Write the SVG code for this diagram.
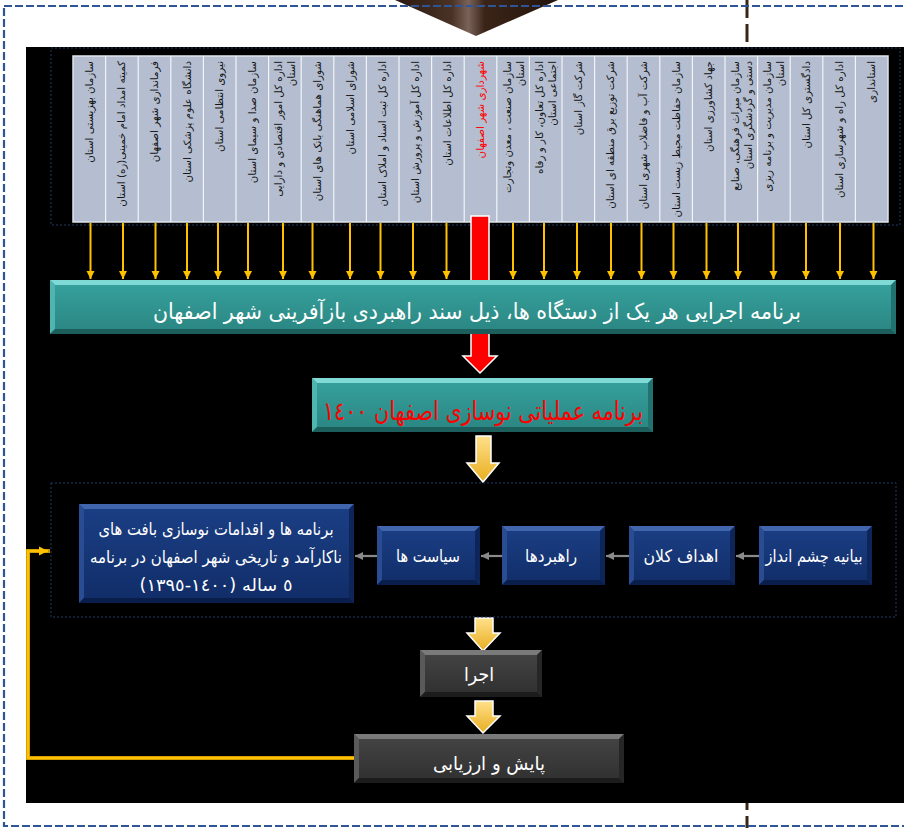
<svg xmlns="http://www.w3.org/2000/svg" width="904" height="828" viewBox="0 0 904 828">
<style>
.ar{font-family:"DejaVu Sans",sans-serif;}
.lbl{font-family:"DejaVu Sans",sans-serif;font-size:10.3px;fill:#151515;}
.red{fill:#ff0000;}
.wt{fill:#ffffff;}
.ya{stroke:#FFC000;stroke-width:2;fill:none;}
.ga{stroke:#8a8a8a;stroke-width:2.2;fill:none;}
</style>
<defs>
<marker id="my" viewBox="0 0 10 10" refX="10" refY="5" markerWidth="8" markerHeight="9" markerUnits="userSpaceOnUse" orient="auto"><path d="M0,0 L10,5 L0,10 z" fill="#FFC000"/></marker>
<marker id="mg" viewBox="0 0 10 10" refX="10" refY="5" markerWidth="9" markerHeight="8" markerUnits="userSpaceOnUse" orient="auto"><path d="M0,0 L10,5 L0,10 z" fill="#8a8a8a"/></marker>
<marker id="mf" viewBox="0 0 10 10" refX="10" refY="5" markerWidth="9" markerHeight="11" markerUnits="userSpaceOnUse" orient="auto"><path d="M0,0 L10,5 L0,10 z" fill="#FFC000"/></marker>
<linearGradient id="brown" x1="0" y1="0" x2="1" y2="0">
<stop offset="0" stop-color="#2b180e"/><stop offset="0.35" stop-color="#4a3226"/><stop offset="0.45" stop-color="#7a6258"/><stop offset="0.55" stop-color="#3a2418"/><stop offset="1" stop-color="#24140b"/>
</linearGradient>
<linearGradient id="gold" x1="0" y1="0" x2="0" y2="1">
<stop offset="0" stop-color="#FFE08A"/><stop offset="1" stop-color="#E8AE20"/>
</linearGradient>
<linearGradient id="teal" x1="0" y1="0" x2="0" y2="1">
<stop offset="0" stop-color="#37A29E"/><stop offset="1" stop-color="#2A8581"/>
</linearGradient>
<linearGradient id="navy" x1="0" y1="0" x2="0" y2="1">
<stop offset="0" stop-color="#1B3F85"/><stop offset="1" stop-color="#112D68"/>
</linearGradient>
<linearGradient id="grey" x1="0" y1="0" x2="0" y2="1">
<stop offset="0" stop-color="#454545"/><stop offset="1" stop-color="#2f2f2f"/>
</linearGradient>
</defs>

<rect x="0" y="0" width="904" height="828" fill="#ffffff"/>
<polygon points="395,0 558,0 476,36" fill="url(#brown)"/>
<line x1="747" y1="0" x2="747" y2="834" stroke="#3a2616" stroke-width="3" stroke-dasharray="18 6"/>
<rect x="4" y="6" width="1000" height="820" fill="none" stroke="#2F5597" stroke-width="2.2" stroke-dasharray="8 3"/>
<rect x="26" y="47" width="878" height="756" fill="#000000"/>

<g id="table">
<rect x="51" y="48" width="849" height="177" fill="none" stroke="#1F3864" stroke-width="1" stroke-dasharray="2 2"/>
<rect x="73" y="56" width="815" height="166" fill="#B4BED0" stroke="#dfe3ea" stroke-width="1.5"/>
<g stroke="#f2f4f8" stroke-width="1.2">
<line x1="105.6" y1="56" x2="105.6" y2="222"/><line x1="138.2" y1="56" x2="138.2" y2="222"/><line x1="170.8" y1="56" x2="170.8" y2="222"/><line x1="203.4" y1="56" x2="203.4" y2="222"/><line x1="236" y1="56" x2="236" y2="222"/><line x1="268.6" y1="56" x2="268.6" y2="222"/><line x1="301.2" y1="56" x2="301.2" y2="222"/><line x1="333.8" y1="56" x2="333.8" y2="222"/><line x1="366.4" y1="56" x2="366.4" y2="222"/><line x1="399" y1="56" x2="399" y2="222"/><line x1="431.6" y1="56" x2="431.6" y2="222"/><line x1="464.2" y1="56" x2="464.2" y2="222"/><line x1="496.8" y1="56" x2="496.8" y2="222"/><line x1="529.4" y1="56" x2="529.4" y2="222"/><line x1="562" y1="56" x2="562" y2="222"/><line x1="594.6" y1="56" x2="594.6" y2="222"/><line x1="627.2" y1="56" x2="627.2" y2="222"/><line x1="659.8" y1="56" x2="659.8" y2="222"/><line x1="692.4" y1="56" x2="692.4" y2="222"/><line x1="725" y1="56" x2="725" y2="222"/><line x1="757.6" y1="56" x2="757.6" y2="222"/><line x1="790.2" y1="56" x2="790.2" y2="222"/><line x1="822.8" y1="56" x2="822.8" y2="222"/><line x1="855.4" y1="56" x2="855.4" y2="222"/>
</g>
</g>

<g id="col01"><text class="lbl" direction="rtl" text-anchor="start" transform="translate(89.3,61) rotate(-90)" y="3.5">سازمان بهزیستی استان</text></g>
<g id="col02"><text class="lbl" direction="rtl" text-anchor="start" transform="translate(121.9,61) rotate(-90)" y="3.5">کمیته امداد امام خمینی(ره) استان</text></g>
<g id="col03"><text class="lbl" direction="rtl" text-anchor="start" transform="translate(154.5,61) rotate(-90)" y="3.5">فرمانداری شهر اصفهان</text></g>
<g id="col04"><text class="lbl" direction="rtl" text-anchor="start" transform="translate(187.1,61) rotate(-90)" y="3.5">دانشگاه علوم پزشکی استان</text></g>
<g id="col05"><text class="lbl" direction="rtl" text-anchor="start" transform="translate(219.7,61) rotate(-90)" y="3.5">نیروی انتظامی استان</text></g>
<g id="col06"><text class="lbl" direction="rtl" text-anchor="start" transform="translate(252.3,61) rotate(-90)" y="3.5">سازمان صدا و سیمای استان</text></g>
<g id="col07"><text class="lbl" direction="rtl" text-anchor="start" transform="translate(284.9,61) rotate(-90)"><tspan x="0" y="-2.5">اداره کل امور اقتصادی و دارایی</tspan><tspan x="0" y="10.5">استان</tspan></text></g>
<g id="col08"><text class="lbl" direction="rtl" text-anchor="start" transform="translate(317.5,61) rotate(-90)" y="3.5">شورای هماهنگی بانک های استان</text></g>
<g id="col09"><text class="lbl" direction="rtl" text-anchor="start" transform="translate(350.1,61) rotate(-90)" y="3.5">شورای اسلامی استان</text></g>
<g id="col10"><text class="lbl" direction="rtl" text-anchor="start" transform="translate(382.7,61) rotate(-90)" y="3.5">اداره کل ثبت اسناد و املاک استان</text></g>
<g id="col11"><text class="lbl" direction="rtl" text-anchor="start" transform="translate(415.3,61) rotate(-90)" y="3.5">اداره کل آموزش و پرورش استان</text></g>
<g id="col12"><text class="lbl" direction="rtl" text-anchor="start" transform="translate(447.9,61) rotate(-90)" y="3.5">اداره کل اطلاعات استان</text></g>
<g id="col13"><text class="lbl red" direction="rtl" text-anchor="start" transform="translate(480.5,61) rotate(-90)" y="3.5">شهرداری شهر اصفهان</text></g>
<g id="col14"><text class="lbl" direction="rtl" text-anchor="start" transform="translate(513.1,61) rotate(-90)"><tspan x="0" y="-2.5">سازمان صنعت ، معدن وتجارت</tspan><tspan x="0" y="10.5">استان</tspan></text></g>
<g id="col15"><text class="lbl" direction="rtl" text-anchor="start" transform="translate(545.7,61) rotate(-90)"><tspan x="0" y="-2.5">اداره کل تعاون، کار و رفاه</tspan><tspan x="0" y="10.5">اجتماعی استان</tspan></text></g>
<g id="col16"><text class="lbl" direction="rtl" text-anchor="start" transform="translate(578.3,61) rotate(-90)" y="3.5">شرکت گاز استان</text></g>
<g id="col17"><text class="lbl" direction="rtl" text-anchor="start" transform="translate(610.9,61) rotate(-90)" y="3.5">شرکت توزیع برق منطقه ای استان</text></g>
<g id="col18"><text class="lbl" direction="rtl" text-anchor="start" transform="translate(643.5,61) rotate(-90)" y="3.5">شرکت آب و فاضلاب شهری استان</text></g>
<g id="col19"><text class="lbl" direction="rtl" text-anchor="start" transform="translate(676.1,61) rotate(-90)" y="3.5">سازمان حفاظت محیط زیست استان</text></g>
<g id="col20"><text class="lbl" direction="rtl" text-anchor="start" transform="translate(708.7,61) rotate(-90)" y="3.5">جهاد کشاورزی استان</text></g>
<g id="col21"><text class="lbl" direction="rtl" text-anchor="start" transform="translate(741.3,61) rotate(-90)"><tspan x="0" y="-2.5">سازمان میراث فرهنگی، صنایع</tspan><tspan x="0" y="10.5">دستی و گردشگری استان</tspan></text></g>
<g id="col22"><text class="lbl" direction="rtl" text-anchor="start" transform="translate(773.9,61) rotate(-90)"><tspan x="0" y="-2.5">سازمان مدیریت و برنامه ریزی</tspan><tspan x="0" y="10.5">استان</tspan></text></g>
<g id="col23"><text class="lbl" direction="rtl" text-anchor="start" transform="translate(806.5,61) rotate(-90)" y="3.5">دادگستری کل استان</text></g>
<g id="col24"><text class="lbl" direction="rtl" text-anchor="start" transform="translate(839.1,61) rotate(-90)" y="3.5">اداره کل راه و شهرسازی استان</text></g>
<g id="col25"><text class="lbl" direction="rtl" text-anchor="start" transform="translate(871.7,61) rotate(-90)" y="3.5">استانداری</text></g>

<g id="connectors">
<g class="ya" marker-end="url(#my)">
<line x1="90.5" y1="223" x2="90.5" y2="279"/><line x1="123" y1="223" x2="123" y2="279"/><line x1="155.5" y1="223" x2="155.5" y2="279"/><line x1="187" y1="223" x2="187" y2="279"/><line x1="218" y1="223" x2="218" y2="279"/><line x1="248" y1="223" x2="248" y2="279"/><line x1="283" y1="223" x2="283" y2="279"/><line x1="312.5" y1="223" x2="312.5" y2="279"/><line x1="350" y1="223" x2="350" y2="279"/><line x1="380.5" y1="223" x2="380.5" y2="279"/><line x1="413" y1="223" x2="413" y2="279"/><line x1="446.5" y1="223" x2="446.5" y2="279"/><line x1="513" y1="223" x2="513" y2="279"/><line x1="544" y1="223" x2="544" y2="279"/><line x1="577" y1="223" x2="577" y2="279"/><line x1="611" y1="223" x2="611" y2="279"/><line x1="641.5" y1="223" x2="641.5" y2="279"/><line x1="673.5" y1="223" x2="673.5" y2="279"/><line x1="706.5" y1="223" x2="706.5" y2="279"/><line x1="738" y1="223" x2="738" y2="279"/><line x1="773.5" y1="223" x2="773.5" y2="279"/><line x1="806" y1="223" x2="806" y2="279"/><line x1="840" y1="223" x2="840" y2="279"/><line x1="873.5" y1="223" x2="873.5" y2="279"/>
</g>
<polygon points="471,216 489,216 489,356 497,356 480,373 463,356 471,356" fill="#ff0000" stroke="#ffffff" stroke-width="1.5"/>
<polygon points="476,436 491,436 491,463 499,463 483,482 467,463 476,463" fill="url(#gold)" stroke="#ffffff" stroke-width="1.5"/>
<polygon points="475,618 493,618 493,633 500,633 483,651 467,633 475,633" fill="url(#gold)" stroke="#ffffff" stroke-width="1.5"/>
<polygon points="475,701 493,701 493,716 500,716 483,733 467,716 475,716" fill="url(#gold)" stroke="#ffffff" stroke-width="1.5"/>
<g class="ga" marker-end="url(#mg)">
<line x1="759" y1="556" x2="736" y2="556"/><line x1="629" y1="556" x2="606" y2="556"/><line x1="502" y1="556" x2="481" y2="556"/><line x1="377" y1="556" x2="355" y2="556"/>
</g>
<polyline points="354,758 28,758 28,551 50,551" fill="none" stroke="#C89400" stroke-width="4"/>
<polyline points="354,758 28,758 28,551 48,551" fill="none" stroke="#FFC000" stroke-width="2.5" marker-end="url(#mf)"/>
</g>

<g id="banner">
<rect x="50" y="280" width="846" height="54" fill="url(#teal)"/>
<polygon points="50,280 896,280 891,285 55,285" fill="#7FDAD6"/>
<polygon points="50,280 55,285 55,329 50,334" fill="#4FB5B1"/>
<polygon points="896,280 896,334 891,329 891,285" fill="#22726F"/>
<polygon points="50,334 55,329 891,329 896,334" fill="#1B5E5B"/>
<text class="ar wt" direction="rtl" text-anchor="middle" x="477" y="319" font-size="22" textLength="648" lengthAdjust="spacingAndGlyphs">برنامه اجرایی هر یک از دستگاه ها، ذیل سند راهبردی بازآفرینی شهر اصفهان</text>
</g>

<g id="program1400">
<rect x="312" y="378" width="341" height="54" fill="url(#teal)"/>
<polygon points="312,378 653,378 648,383 317,383" fill="#7FDAD6"/>
<polygon points="312,378 317,383 317,427 312,432" fill="#4FB5B1"/>
<polygon points="653,378 653,432 648,427 648,383" fill="#22726F"/>
<polygon points="312,432 317,427 648,427 653,432" fill="#1B5E5B"/>
<text class="ar red" direction="rtl" text-anchor="middle" x="483" y="420" font-size="26" textLength="320" lengthAdjust="spacingAndGlyphs">برنامه عملیاتی نوسازی اصفهان ١٤٠٠</text>
</g>

<rect x="51" y="483" width="845" height="134" fill="none" stroke="#1F3864" stroke-width="1" stroke-dasharray="2 2"/>

<g id="vision">
<rect x="759" y="526" width="113" height="59" fill="url(#navy)"/>
<polygon points="759,526 872,526 867,531 764,531" fill="#4266AE"/>
<polygon points="759,526 764,531 764,580 759,585" fill="#2A4C93"/>
<polygon points="872,526 872,585 867,580 867,531" fill="#0E2559"/>
<polygon points="759,585 764,580 867,580 872,585" fill="#0A1E4C"/>
<text class="ar wt" direction="rtl" text-anchor="middle" x="814" y="562" font-size="17" textLength="97" lengthAdjust="spacingAndGlyphs">بیانیه چشم انداز</text>
</g>
<g id="goals">
<rect x="629" y="526" width="106" height="59" fill="url(#navy)"/>
<polygon points="629,526 735,526 730,531 634,531" fill="#4266AE"/>
<polygon points="629,526 634,531 634,580 629,585" fill="#2A4C93"/>
<polygon points="735,526 735,585 730,580 730,531" fill="#0E2559"/>
<polygon points="629,585 634,580 730,580 735,585" fill="#0A1E4C"/>
<text class="ar wt" direction="rtl" text-anchor="middle" x="681" y="562" font-size="17" textLength="75" lengthAdjust="spacingAndGlyphs">اهداف کلان</text>
</g>
<g id="strategies">
<rect x="502" y="526" width="103" height="59" fill="url(#navy)"/>
<polygon points="502,526 605,526 600,531 507,531" fill="#4266AE"/>
<polygon points="502,526 507,531 507,580 502,585" fill="#2A4C93"/>
<polygon points="605,526 605,585 600,580 600,531" fill="#0E2559"/>
<polygon points="502,585 507,580 600,580 605,585" fill="#0A1E4C"/>
<text class="ar wt" direction="rtl" text-anchor="middle" x="551" y="562" font-size="17" textLength="52" lengthAdjust="spacingAndGlyphs">راهبردها</text>
</g>
<g id="policies">
<rect x="377" y="526" width="103" height="59" fill="url(#navy)"/>
<polygon points="377,526 480,526 475,531 382,531" fill="#4266AE"/>
<polygon points="377,526 382,531 382,580 377,585" fill="#2A4C93"/>
<polygon points="480,526 480,585 475,580 475,531" fill="#0E2559"/>
<polygon points="377,585 382,580 475,580 480,585" fill="#0A1E4C"/>
<text class="ar wt" direction="rtl" text-anchor="middle" x="428" y="562" font-size="17" textLength="64" lengthAdjust="spacingAndGlyphs">سیاست ها</text>
</g>
<g id="programs">
<rect x="79" y="504" width="275" height="99" fill="url(#navy)"/>
<polygon points="79,504 354,504 349,509 84,509" fill="#4266AE"/>
<polygon points="79,504 84,509 84,598 79,603" fill="#2A4C93"/>
<polygon points="354,504 354,603 349,598 349,509" fill="#0E2559"/>
<polygon points="79,603 84,598 349,598 354,603" fill="#0A1E4C"/>
<text class="ar wt" direction="rtl" text-anchor="middle" x="216" y="535" font-size="17" textLength="235" lengthAdjust="spacingAndGlyphs">برنامه ها و اقدامات نوسازی بافت های</text>
<text class="ar wt" direction="rtl" text-anchor="middle" x="216" y="563" font-size="17" textLength="252" lengthAdjust="spacingAndGlyphs">ناکارآمد و تاریخی شهر اصفهان در برنامه</text>
<text class="ar wt" direction="rtl" text-anchor="middle" x="216" y="591" font-size="17" textLength="153" lengthAdjust="spacingAndGlyphs">٥ ساله (١٤٠٠-١٣٩٥)</text>
</g>

<g id="execution">
<rect x="420" y="650" width="122" height="47" fill="url(#grey)"/>
<polygon points="420,650 542,650 537,655 425,655" fill="#7a7a7a"/>
<polygon points="420,650 425,655 425,692 420,697" fill="#5a5a5a"/>
<polygon points="542,650 542,697 537,692 537,655" fill="#262626"/>
<polygon points="420,697 425,692 537,692 542,697" fill="#1c1c1c"/>
<text class="ar wt" direction="rtl" text-anchor="middle" x="479" y="681" font-size="19" textLength="30" lengthAdjust="spacingAndGlyphs">اجرا</text>
</g>
<g id="monitoring">
<rect x="354" y="734" width="270" height="49" fill="url(#grey)"/>
<polygon points="354,734 624,734 619,739 359,739" fill="#7a7a7a"/>
<polygon points="354,734 359,739 359,778 354,783" fill="#5a5a5a"/>
<polygon points="624,734 624,783 619,778 619,739" fill="#262626"/>
<polygon points="354,783 359,778 619,778 624,783" fill="#1c1c1c"/>
<text class="ar wt" direction="rtl" text-anchor="middle" x="489" y="770" font-size="19" textLength="112" lengthAdjust="spacingAndGlyphs">پایش و ارزیابی</text>
</g>
</svg>
